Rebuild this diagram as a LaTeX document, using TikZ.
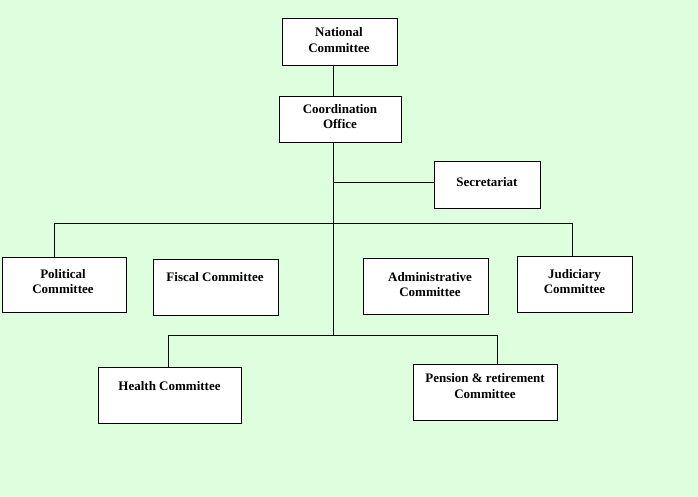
\documentclass[tikz,border=0pt]{standalone}
\usepackage{fontspec}
\setmainfont{Liberation Serif}
\definecolor{bg}{RGB}{221,255,221}
\begin{document}
\begin{tikzpicture}[x=1pt,y=-1pt,
  box/.style={draw=black, fill=white, line width=1pt, inner sep=0pt, anchor=north west},
  lbl/.style={font=\bfseries\fontsize{13}{15.5}\selectfont, align=center, inner sep=0pt, anchor=north},
  conn/.style={draw=black, line width=1pt}]
\fill[bg] (0,0) rectangle (698,497);
\useasboundingbox (0,0) rectangle (698,497);
% boxes
\node[box, minimum width=115pt, minimum height=47pt] (nat) at (282,18) {};
\node[box, minimum width=122pt, minimum height=46pt] (coord) at (279,96) {};
\node[box, minimum width=106pt, minimum height=47pt] (sec) at (434,161) {};
\node[box, minimum width=124pt, minimum height=55pt] (pol) at (2,257) {};
\node[box, minimum width=125pt, minimum height=56pt] (fis) at (153,259) {};
\node[box, minimum width=125pt, minimum height=56pt] (adm) at (363,258) {};
\node[box, minimum width=115pt, minimum height=56pt] (jud) at (517,256) {};
\node[box, minimum width=143pt, minimum height=56pt] (hea) at (98,367) {};
\node[box, minimum width=144pt, minimum height=56pt] (pen) at (413,364) {};
% labels
\node[lbl] (natt) at (339,27.7) {National\\Committee};
\node[lbl] (coordt) at (340,104) {Coordination\\Office};
\node[lbl] (sect) at (487,177) {Secretariat};
\node[lbl] (polt) at (63,269) {Political\\Committee};
\node[lbl] (fist) at (215,272) {Fiscal Committee};
\node[lbl] (admt) at (430,272) {Administrative\\Committee};
\node[lbl] (judt) at (574.5,269) {Judiciary\\Committee};
\node[lbl] (heat) at (169.5,381) {Health Committee};
\node[lbl] (pent) at (485,373.7) {Pension \& retirement\\Committee};
% junctions
\coordinate (jsec) at (333,183);
\coordinate (jbus) at (333,223);
\coordinate (busL) at (54,223);
\coordinate (busR) at (572,223);
\coordinate (jlow) at (333,335);
\coordinate (lowL) at (168,335);
\coordinate (lowR) at (497,335);
% connectors
\draw[conn] (nat.south -| jbus) -- (coord.north -| jbus);
\draw[conn] (coord.south -| jbus) -- (jlow);
\draw[conn] (jsec) -- (sec.west |- jsec);
\draw[conn] (busL) -- (busR);
\draw[conn] (busL) -- (pol.north -| busL);
\draw[conn] (busR) -- (jud.north -| busR);
\draw[conn] (lowL) -- (lowR);
\draw[conn] (lowL) -- (hea.north -| lowL);
\draw[conn] (lowR) -- (pen.north -| lowR);
\end{tikzpicture}
\end{document}
